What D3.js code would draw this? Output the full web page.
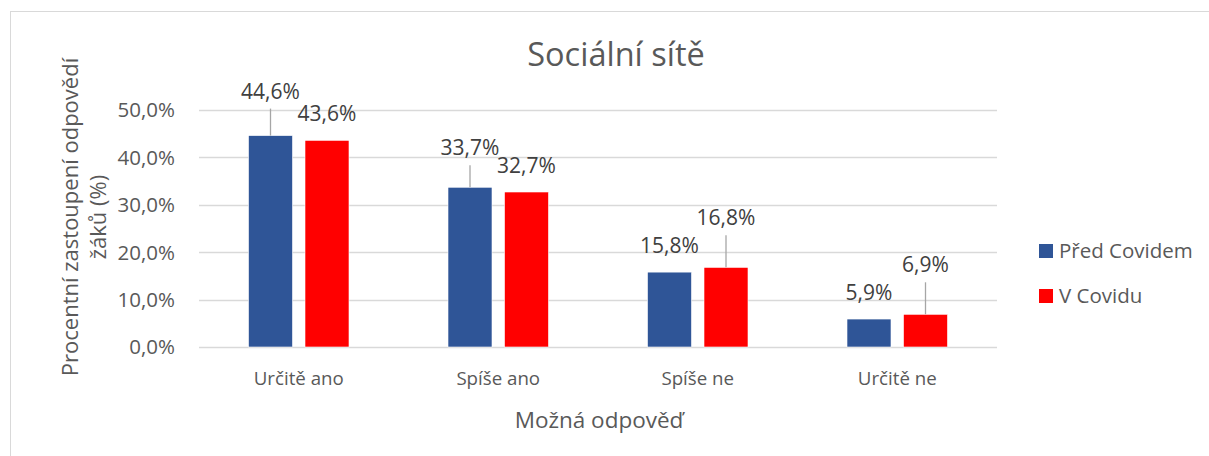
<!DOCTYPE html>
<html>
<head>
<meta charset="utf-8">
<script src="https://cdn.jsdelivr.net/npm/d3@7"></script>
<style>
  body { margin: 0; background: #fff; }
  svg text { font-family: "Open Sans", sans-serif; }
</style>
</head>
<body>
<svg id="chart" width="1209" height="456"></svg>
<script>
// data
const categories = ["Určitě ano", "Spíše ano", "Spíše ne", "Určitě ne"];
const seriesNames = ["Před Covidem", "V Covidu"];
const predCovidem = [44.6, 33.7, 15.8, 5.9];
const vCovidu = [43.6, 32.7, 16.8, 6.9];
const yTicks = [0, 10, 20, 30, 40, 50];

// label lift (px above the default spot) for labels pulled out with a leader line
const labelLift = [[18, 0], [13, 0], [0, 23], [0, 23]];

const colors = ["#2F5597", "#FF0000"];
const width = 1209, height = 456;
const margin = { left: 199, right: 212, top: 110, bottom: 109 };

const svg = d3.select("#chart");

// chart frame (only top & left visible in the shot)
svg.append("rect")
  .attr("x", 10.5).attr("y", 11.5)
  .attr("width", 1300).attr("height", 600)
  .attr("fill", "none")
  .attr("stroke", "#d9d9d9");

const x = d3.scaleBand()
  .domain(categories)
  .range([margin.left, width - margin.right])
  .paddingInner(0.5)
  .paddingOuter(0.25);

const y = d3.scaleLinear()
  .domain([0, 50])
  .range([height - margin.bottom, margin.top]);

const rows = categories.map((c, i) => ({
  cat: c,
  vals: [predCovidem[i], vCovidu[i]],
  lift: labelLift[i]
}));

// gridlines
svg.append("g")
  .selectAll("line")
  .data(yTicks)
  .join("line")
  .attr("x1", margin.left)
  .attr("x2", width - margin.right)
  .attr("y1", d => Math.round(y(d)) + 0.5)
  .attr("y2", d => Math.round(y(d)) + 0.5)
  .attr("stroke", "#d9d9d9")
  .attr("stroke-width", 1.3);

// y tick labels
let fmt = d => d3.format(".1f")(d).replace(".", ",") + "%";

svg.append("g")
  .selectAll("text")
  .data(yTicks)
  .join("text")
  .attr("x", margin.left - 24)
  .attr("y", d => y(d))
  .attr("dy", "0.36em")
  .attr("text-anchor", "end")
  .attr("font-size", 20.5)
  .attr("fill", "#595959")
  .text(fmt);

// bars
let barW = 44, gap = 12.5;
let offs = [-(gap / 2 + barW), gap / 2];

let groups = svg.append("g")
  .selectAll("g")
  .data(rows)
  .join("g")
  .attr("transform", d => "translate(" + (x(d.cat) + x.bandwidth() / 2) + ",0)");

groups.selectAll("rect")
  .data(d => d.vals.map((v, k) => ({ v: v, k: k })))
  .join("rect")
  .attr("x", d => offs[d.k])
  .attr("width", barW)
  .attr("y", d => y(d.v))
  .attr("height", d => y(0) - y(d.v))
  .attr("fill", d => colors[d.k])
  .attr("stroke", "#fff")
  .attr("stroke-width", 0.6);

// data labels + leader lines
groups.each(function (d) {
  let g = d3.select(this);
  d.vals.forEach((v, k) => {
    let cx = offs[k] + barW / 2;
    let base = y(v) - 19 - d.lift[k];
    if (d.lift[k] > 0) {
      g.append("line")
        .attr("x1", cx).attr("x2", cx)
        .attr("y1", y(v)).attr("y2", base + 10)
        .attr("stroke", "#a6a6a6")
        .attr("stroke-width", 1.3);
    }
    g.append("text")
      .attr("x", cx)
      .attr("y", base)
      .attr("text-anchor", "middle")
      .attr("font-size", 21)
      .attr("fill", "#404040")
      .text(fmt(v));
  });
});

// category labels
svg.append("g")
  .selectAll("text")
  .data(categories)
  .join("text")
  .attr("x", d => x(d) + x.bandwidth() / 2)
  .attr("y", 385)
  .attr("text-anchor", "middle")
  .attr("font-size", 18.7)
  .attr("fill", "#595959")
  .text(d => d);

// title
svg.append("text")
  .attr("x", 616)
  .attr("y", 66)
  .attr("text-anchor", "middle")
  .attr("font-size", 32.5)
  .attr("fill", "#595959")
  .text("Sociální sítě");

// axis titles
svg.append("text")
  .attr("x", 599)
  .attr("y", 428)
  .attr("text-anchor", "middle")
  .attr("font-size", 22.5)
  .attr("fill", "#595959")
  .text("Možná odpověď");

let yTitle = svg.append("text")
  .attr("transform", "translate(78,217) rotate(-90)")
  .attr("text-anchor", "middle")
  .attr("font-size", 22)
  .attr("fill", "#595959");
yTitle.append("tspan").attr("x", 0).attr("y", 0).text("Procentní zastoupení odpovědí");
yTitle.append("tspan").attr("x", 0).attr("y", 28).text("žáků (%)");

// legend
let leg = svg.append("g")
  .selectAll("g")
  .data(seriesNames)
  .join("g")
  .attr("transform", (d, i) => "translate(1039," + (244 + i * 45) + ")");

leg.append("rect")
  .attr("width", 14).attr("height", 14)
  .attr("fill", (d, i) => colors[i]);

leg.append("text")
  .attr("x", 20)
  .attr("y", 7)
  .attr("dy", "0.36em")
  .attr("font-size", 20.5)
  .attr("fill", "#595959")
  .text(d => d);
</script>
</body>
</html>
